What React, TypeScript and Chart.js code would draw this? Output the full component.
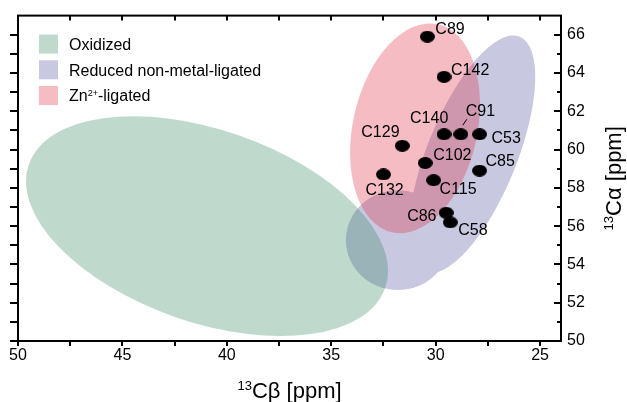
import { useEffect, useRef } from 'react';
import { Chart, registerables } from 'chart.js';

Chart.register(...registerables);

const FONT = '"Liberation Sans", Arial, Helvetica, sans-serif';

// ---- Cysteine residues (13Cβ, 13Cα chemical shifts, ppm) ----
const residueLabels = ['C89', 'C142', 'C140', 'C91', 'C53', 'C129', 'C102', 'C85', 'C132', 'C115', 'C86', 'C58'];
const cbShifts = [30.4, 29.6, 29.6, 28.8, 27.9, 31.6, 30.5, 27.9, 32.5, 30.1, 29.5, 29.3];
const caShifts = [65.9, 63.8, 60.8, 60.8, 60.8, 60.2, 59.3, 58.9, 58.7, 58.4, 56.7, 56.2];

// label placement relative to each dot (px) – styling only
const labelOffsets: [number, number][] = [
  [8, -7], [7, -6], [-34, -16], [5, -23], [12, 4], [-41, -13],
  [8, -7], [6, -9], [-18, 16], [6, 9], [-39, 4], [8, 8],
];
const leaderIndex = 3; // C91 has a short leader line

// ---- Regions: [centre Cβ, centre Cα, semi-axis 1, semi-axis 2 (ppm), rotation (deg)] ----
const regionNames = ['Oxidized', 'Reduced non-metal-ligated', 'Zn²⁺-ligated'];
const regionColors = ['rgba(48,128,88,0.3)', 'rgba(72,72,155,0.3)', 'rgba(222,38,55,0.3)'];
const oxidizedEllipses = [[40.95, 56.0, 9.03, 4.61, 19.1]];
const reducedEllipses = [[28.26, 59.75, 2.15, 6.08, 22], [31.81, 55.27, 2.49, 2.39, 0]];
const znEllipses = [[30.99, 61.11, 2.98, 5.1, 12.4]];
const regionEllipses = [oxidizedEllipses, reducedEllipses, znEllipses];
const drawOrder = [1, 2, 0];

// ---- Axis ticks ----
const xMajorTicks = [50, 45, 40, 35, 30, 25];
const xMinorTicks = [47.5, 42.5, 37.5, 32.5, 27.5];
const yMajorTicks = [50, 52, 54, 56, 58, 60, 62, 64, 66];
const yMinorTicks = [51, 53, 55, 57, 59, 61, 63, 65];

const xTitle = '¹³Cβ [ppm]';
const yTitle = '¹³Cα [ppm]';

const SUP: Record<string, string> = { '¹': '1', '²': '2', '³': '3', '⁺': '+' };

function splitRich(text: string) {
  const parts: { t: string; sup: boolean }[] = [];
  for (const ch of text) {
    const sup = ch in SUP;
    const c = sup ? SUP[ch] : ch;
    const last = parts[parts.length - 1];
    if (last && last.sup === sup) last.t += c;
    else parts.push({ t: c, sup });
  }
  return parts;
}

function richWidth(ctx: CanvasRenderingContext2D, text: string, size: number) {
  let w = 0;
  for (const p of splitRich(text)) {
    ctx.font = `${p.sup ? Math.round(size * 0.58) : size}px ${FONT}`;
    w += ctx.measureText(p.t).width;
  }
  return w;
}

function drawRich(ctx: CanvasRenderingContext2D, text: string, x: number, y: number, size: number) {
  let cx = x;
  ctx.textAlign = 'left';
  ctx.textBaseline = 'alphabetic';
  for (const p of splitRich(text)) {
    const s = p.sup ? Math.round(size * 0.58) : size;
    ctx.font = `${s}px ${FONT}`;
    ctx.fillText(p.t, cx, p.sup ? y - size * 0.36 : y);
    cx += ctx.measureText(p.t).width;
  }
}

const regionPlugin = {
  id: 'regions',
  beforeDatasetsDraw(chart: any) {
    const { ctx, chartArea, scales } = chart;
    const xs = scales.x;
    const ys = scales.y;
    const unit = Math.abs(xs.getPixelForValue(1) - xs.getPixelForValue(0));
    ctx.save();
    ctx.beginPath();
    ctx.rect(chartArea.left, chartArea.top, chartArea.right - chartArea.left, chartArea.bottom - chartArea.top);
    ctx.clip();
    drawOrder.forEach((r) => {
      ctx.beginPath();
      regionEllipses[r].forEach(([cx, cy, a1, a2, rot]) => {
        const px = xs.getPixelForValue(cx);
        const py = ys.getPixelForValue(cy);
        const rx = a1 * unit;
        const ry = a2 * unit;
        const th = (rot * Math.PI) / 180;
        ctx.moveTo(px + rx * Math.cos(th), py + rx * Math.sin(th));
        ctx.ellipse(px, py, rx, ry, th, 0, Math.PI * 2);
      });
      ctx.fillStyle = regionColors[r];
      ctx.fill();
    });
    ctx.restore();
  },
};

const labelPlugin = {
  id: 'pointLabels',
  afterDatasetsDraw(chart: any) {
    const { ctx } = chart;
    const meta = chart.getDatasetMeta(0);
    ctx.save();
    ctx.fillStyle = '#000';
    ctx.font = `16px ${FONT}`;
    ctx.textAlign = 'left';
    ctx.textBaseline = 'middle';
    meta.data.forEach((el: any, i: number) => {
      const [dx, dy] = labelOffsets[i];
      ctx.fillText(residueLabels[i], el.x + dx, el.y + dy);
    });
    const el = meta.data[leaderIndex];
    if (el) {
      ctx.strokeStyle = '#000';
      ctx.lineWidth = 1;
      ctx.beginPath();
      ctx.moveTo(el.x + 2, el.y - 9);
      ctx.lineTo(el.x + 6, el.y - 15);
      ctx.stroke();
    }
    ctx.restore();
  },
};

const framePlugin = {
  id: 'frame',
  afterDraw(chart: any) {
    const { ctx, chartArea, scales } = chart;
    const { left, right, top, bottom } = chartArea;
    const xs = scales.x;
    const ys = scales.y;
    ctx.save();
    ctx.strokeStyle = '#000';
    ctx.lineWidth = 2;
    ctx.strokeRect(left, top, right - left, bottom - top);
    ctx.beginPath();
    [...xMajorTicks, ...xMinorTicks].forEach((v) => {
      const x = Math.round(xs.getPixelForValue(v));
      ctx.moveTo(x, bottom);
      ctx.lineTo(x, bottom + 5);
      ctx.moveTo(x, top);
      ctx.lineTo(x, top + 5);
    });
    [...yMajorTicks, ...yMinorTicks].forEach((v) => {
      const y = Math.round(ys.getPixelForValue(v));
      ctx.moveTo(left - 8, y);
      ctx.lineTo(left, y);
    });
    yMajorTicks.forEach((v) => {
      const y = Math.round(ys.getPixelForValue(v));
      ctx.moveTo(right, y);
      ctx.lineTo(right - 7, y);
    });
    yMinorTicks.forEach((v) => {
      const y = Math.round(ys.getPixelForValue(v));
      ctx.moveTo(right, y);
      ctx.lineTo(right - 4, y);
    });
    ctx.stroke();

    // legend
    const lx = left + 21;
    const ly = top + 19;
    regionNames.forEach((name, i) => {
      const y = ly + i * 25.7;
      ctx.fillStyle = '#fff';
      ctx.fillRect(lx, y, 19, 19);
      ctx.fillStyle = regionColors[i];
      ctx.fillRect(lx, y, 19, 19);
      ctx.fillStyle = '#000';
      drawRich(ctx, name, lx + 30, y + 15.3, 16);
    });

    // axis titles
    ctx.fillStyle = '#000';
    const cxT = (left + right) / 2;
    const wx = richWidth(ctx, xTitle, 22);
    drawRich(ctx, xTitle, cxT - wx / 2, 398, 22);

    ctx.translate(621, (top + bottom) / 2);
    ctx.rotate(-Math.PI / 2);
    const wy = richWidth(ctx, yTitle, 22);
    drawRich(ctx, yTitle, -wy / 2, 0, 22);
    ctx.restore();
  },
};

export default function App() {
  const ref = useRef<HTMLCanvasElement | null>(null);

  useEffect(() => {
    const canvas = ref.current;
    if (!canvas) return;
    const dot = document.createElement('canvas');
    dot.width = 15;
    dot.height = 12;
    const dctx = dot.getContext('2d')!;
    dctx.fillStyle = '#000';
    dctx.beginPath();
    dctx.ellipse(7.5, 6, 7.5, 6, 0, 0, Math.PI * 2);
    dctx.fill();

    const tickFont = { size: 16, family: FONT };
    const chart = new Chart(canvas, {
      type: 'scatter',
      data: {
        datasets: [
          {
            label: 'Cys residues',
            data: cbShifts.map((x, i) => ({ x, y: caShifts[i] })),
            pointStyle: dot as any,
            pointRadius: 7,
            pointHoverRadius: 7,
            backgroundColor: '#000',
            borderColor: '#000',
          },
        ],
      },
      options: {
        animation: false,
        responsive: true,
        maintainAspectRatio: false,
        events: [],
        layout: { padding: { left: 18, top: 15, right: 0, bottom: 0 } },
        plugins: {
          legend: { display: false },
          tooltip: { enabled: false },
          title: { display: false },
        },
        scales: {
          x: {
            type: 'linear',
            position: 'bottom',
            reverse: true,
            min: 24,
            max: 50,
            grid: { display: false, drawTicks: false },
            border: { display: false },
            ticks: {
              stepSize: 5,
              includeBounds: false,
              autoSkip: false,
              maxRotation: 0,
              color: '#000',
              font: tickFont,
              padding: 5,
            },
            afterFit: (s: any) => {
              s.height = 61;
            },
          },
          y: {
            type: 'linear',
            position: 'right',
            min: 50,
            max: 67,
            grid: { display: false, drawTicks: false },
            border: { display: false },
            ticks: {
              stepSize: 2,
              includeBounds: false,
              autoSkip: false,
              color: '#000',
              font: tickFont,
              padding: 6,
            },
            afterFit: (s: any) => {
              s.width = 66;
            },
          },
        },
      },
      plugins: [regionPlugin, labelPlugin, framePlugin],
    });
    return () => chart.destroy();
  }, []);

  return (
    <div style={{ position: 'fixed', left: 0, top: 0, width: 627, height: 402, background: '#fff' }}>
      <canvas ref={ref} style={{ display: 'block' }} />
    </div>
  );
}
